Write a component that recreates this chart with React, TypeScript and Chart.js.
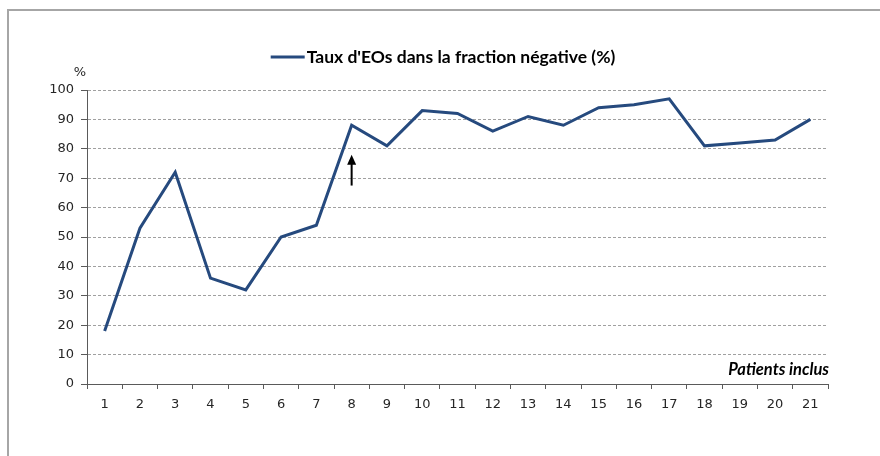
import React, { useEffect, useRef } from "react";
import { Chart, registerables } from "chart.js";

Chart.register(...registerables);

const categories = ["1","2","3","4","5","6","7","8","9","10","11","12","13","14","15","16","17","18","19","20","21"];
const rates = [18, 53, 72, 36, 32, 50, 54, 88, 81, 93, 92, 86, 91, 88, 94, 95, 97, 81, 82, 83, 90];
const seriesLabel = "Taux d'EOs dans la fraction négative (%)";
const yUnit = "%";
const xTitle = "Patients inclus";
const arrowCategory = "8";
const arrowFrom = 67.5;
const arrowTo = 78;

const LINE = "#264a7e";
const TEXT = "#262626";

const extras = {
  id: "extras",
  afterDraw(chart: any) {
    const { ctx, scales } = chart;
    const x = scales.x;
    const y = scales.y;
    ctx.save();
    // legend
    ctx.font = "bold 17.5px Lato, 'Open Sans', sans-serif";
    const tw = ctx.measureText(seriesLabel).width;
    const sw = 34;
    const gap = 2;
    const total = sw + gap + tw;
    const cx = 443;
    const ly = 57;
    const lx = cx - total / 2;
    ctx.strokeStyle = LINE;
    ctx.lineWidth = 3;
    ctx.beginPath();
    ctx.moveTo(lx, ly);
    ctx.lineTo(lx + sw, ly);
    ctx.stroke();
    ctx.fillStyle = "#000";
    ctx.textBaseline = "middle";
    ctx.textAlign = "left";
    ctx.fillText(seriesLabel, lx + sw + gap, ly);
    // unit
    ctx.font = "13px 'DejaVu Sans', sans-serif";
    ctx.fillStyle = TEXT;
    ctx.textAlign = "center";
    ctx.fillText(yUnit, 80, 73);
    // x title
    ctx.font = "bold italic 16.5px Lato, 'Open Sans', sans-serif";
    ctx.fillStyle = "#000";
    ctx.textAlign = "right";
    ctx.fillText(xTitle, x.right + 1, 370);
    // arrow
    const ax = x.getPixelForValue(categories.indexOf(arrowCategory));
    const y0 = y.getPixelForValue(arrowFrom);
    const y1 = y.getPixelForValue(arrowTo);
    ctx.strokeStyle = "#000";
    ctx.lineWidth = 2;
    ctx.beginPath();
    ctx.moveTo(ax, y0);
    ctx.lineTo(ax, y1 + 8);
    ctx.stroke();
    ctx.fillStyle = "#000";
    ctx.beginPath();
    ctx.moveTo(ax, y1);
    ctx.lineTo(ax - 4.5, y1 + 10);
    ctx.lineTo(ax + 4.5, y1 + 10);
    ctx.closePath();
    ctx.fill();
    ctx.restore();
  },
};

export default function App() {
  const ref = useRef<HTMLCanvasElement>(null);
  useEffect(() => {
    document.body.style.margin = "0";
    const chart = new Chart(ref.current!, {
      type: "line",
      data: {
        labels: categories,
        datasets: [
          {
            label: seriesLabel,
            data: rates,
            borderColor: LINE,
            backgroundColor: LINE,
            borderWidth: 3,
            pointRadius: 0,
            tension: 0,
          },
        ],
      },
      options: {
        animation: false,
        responsive: false,
        layout: { padding: { top: 90, right: 52, bottom: 0, left: 0 } },
        plugins: { legend: { display: false }, tooltip: { enabled: false } },
        scales: {
          x: {
            type: "category",
            offset: true,
            grid: {
              offset: true,
              drawOnChartArea: false,
              drawTicks: true,
              tickLength: 5,
              tickColor: "#5a5a5a",
            },
            border: { color: "#5a5a5a", width: 1 },
            ticks: {
              color: TEXT,
              font: { family: "'DejaVu Sans', sans-serif", size: 13 },
              padding: 8,
              maxRotation: 0,
              autoSkip: false,
            },
            afterFit: (s: any) => {
              s.height = 72;
            },
          },
          y: {
            min: 0,
            max: 100,
            grid: {
              color: "#a0a0a0",
              tickColor: "#5a5a5a",
              tickBorderDash: [],
              tickLength: 6,
            } as any,
            border: { color: "#5a5a5a", width: 1, dash: [3, 2] } as any,
            ticks: {
              stepSize: 10,
              color: TEXT,
              font: { family: "'DejaVu Sans', sans-serif", size: 13 },
              padding: 7,
            },
            afterFit: (s: any) => {
              s.width = 87;
            },
          },
        },
      },
      plugins: [extras],
    });
    return () => chart.destroy();
  }, []);
  return (
    <div style={{ position: "relative", width: 880, height: 456, background: "#fff", overflow: "hidden" }}>
      <div
        style={{
          position: "absolute",
          left: 7,
          top: 9,
          width: 900,
          height: 500,
          borderTop: "2px solid #a6a6a6",
          borderLeft: "2px solid #a6a6a6",
        }}
      />
      <canvas ref={ref} width={880} height={456} style={{ position: "absolute", left: 0, top: 0 }} />
    </div>
  );
}
